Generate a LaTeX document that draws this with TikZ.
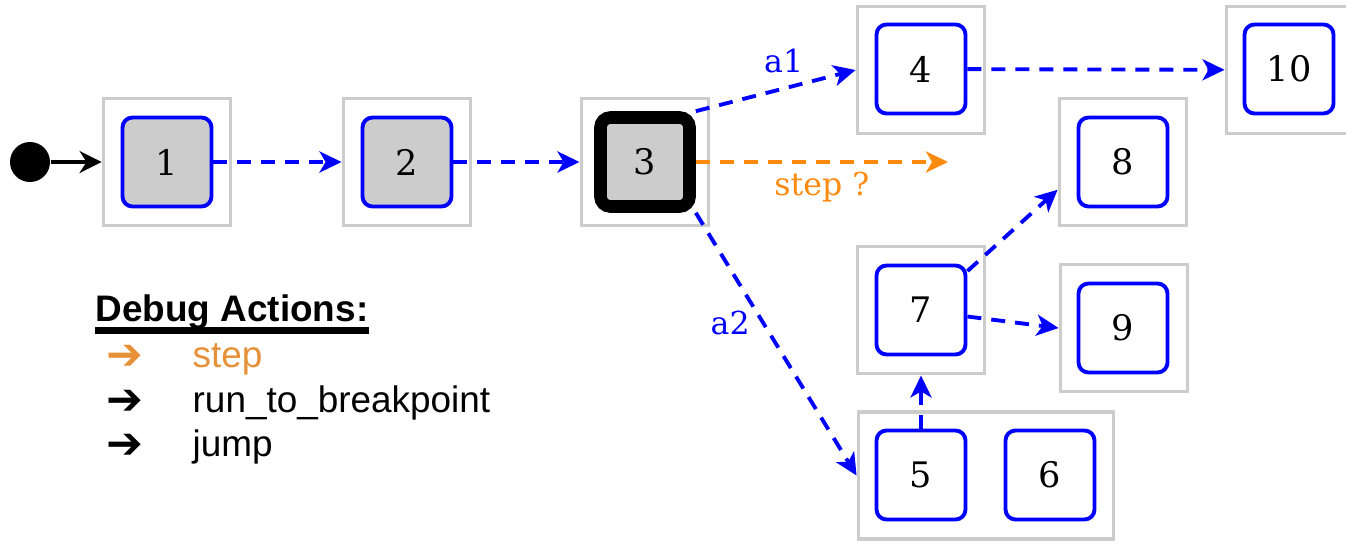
\documentclass[tikz,border=0pt]{standalone}
\usepackage{fontspec}
\setmainfont{DejaVu Serif}
\newfontfamily\legendfont{Liberation Sans}
\newfontfamily\symfont{DejaVu Sans}
\usepackage{xcolor}
\usepackage{tikz}
\usetikzlibrary{arrows.meta}
\definecolor{DbgBlue}{HTML}{0000FF}
\definecolor{DbgGray}{HTML}{CCCCCC}
\definecolor{DbgOrange}{HTML}{FF8A10}
\definecolor{DbgLegend}{HTML}{E69138}

\begin{document}
\begin{tikzpicture}[x=1cm,y=1cm,
  cell/.style={draw=DbgGray,line width=1.1pt,minimum width=1.27cm,minimum height=1.27cm,inner sep=0pt},
  state/.style={draw=DbgBlue,line width=1.1pt,rounded corners=0.1cm,minimum size=0.89cm,inner sep=0pt,font=\fontsize{10}{12}\selectfont},
  trans/.style={DbgBlue,line width=1.1pt,dash pattern=on 0.14cm off 0.1cm,-{Stealth[length=0.22cm,width=0.21cm,inset=0.06cm]}},
  lbl/.style={font=\fontsize{9}{11}\selectfont},
  legend/.style={anchor=base west,inner sep=0pt,font=\legendfont\fontsize{10.5}{12}\selectfont},
  legarrow/.style={anchor=base west,inner sep=0pt,font=\symfont\bfseries\fontsize{12.5}{14}\selectfont}]
\clip (0,0) rectangle (13.46,5.42);
% grey frames
\node[cell] (o1) at (1.67,3.80) {};
\node[cell] (o2) at (4.07,3.80) {};
\node[cell] (o3) at (6.45,3.80) {};
\node[cell] (o4) at (9.21,4.72) {};
\node[cell] (o10) at (12.90,4.72) {};
\node[cell] (o8) at (11.23,3.80) {};
\node[cell] (o7) at (9.21,2.32) {};
\node[cell] (o9) at (11.24,2.14) {};
\node[cell,minimum width=2.55cm] (o56) at (9.86,0.665) {};
% states
\node[state,fill=DbgGray] (s1) at (1.67,3.80) {1};
\node[state,fill=DbgGray] (s2) at (4.07,3.80) {2};
\node[state,fill=DbgGray,draw=black,line width=3.6pt] (s3) at (6.45,3.80) {3};
\node[state] (s4) at (9.21,4.73) {4};
\node[state] (s10) at (12.89,4.73) {10};
\node[state] (s8) at (11.23,3.80) {8};
\node[state] (s7) at (9.21,2.32) {7};
\node[state] (s9) at (11.23,2.14) {9};
\node[state] (s5) at (9.21,0.67) {5};
\node[state] (s6) at (10.50,0.67) {6};
% start
\node[circle,fill=black,minimum size=0.4cm,inner sep=0pt] (init) at (0.30,3.80) {};
\draw[line width=1pt,-{Stealth[length=0.22cm,width=0.22cm,inset=0.07cm]}] (init) -- (o1);
% transitions
\draw[trans] (s1) -- (o2);
\draw[trans] (s2) -- (o3);
\draw[trans] (s3.north east) -- (o4.west) node[lbl,pos=0.55,above=0.5pt] {a1};
\coordinate (stepend) at (9.48,3.80);
\draw[trans,DbgOrange] (s3) -- (stepend) node[lbl,midway,below=-1pt] {step ?};
\draw[trans] (s3.south east) -- (o56.west) node[lbl,pos=0.42,left=0pt] {a2};
\draw[trans] (s4) -- (o10);
\draw[trans] (s5) -- (o7);
\draw[trans] (s7.40) -- (o8.203);
\draw[trans] (s7.352) -- (o9.west);
% legend
\node[legend,font=\legendfont\bfseries\fontsize{10.5}{12}\selectfont] (acthead) at (0.95,2.21) {Debug Actions:};
\draw[line width=0.7mm] ([yshift=-0.09cm]acthead.base west) -- ([yshift=-0.09cm]acthead.base east);
\node[legarrow,DbgLegend] (arrstep) at (1.06,1.73) {➔};
\node[legend,DbgLegend] (actstep) at (1.92,1.75) {step};
\node[legarrow] (arrrun) at (1.06,1.28) {➔};
\node[legend] (actrun) at (1.92,1.30) {run\_to\_breakpoint};
\node[legarrow] (arrjump) at (1.06,0.84) {➔};
\node[legend] (actjump) at (1.92,0.86) {jump};
\end{tikzpicture}
\end{document}
